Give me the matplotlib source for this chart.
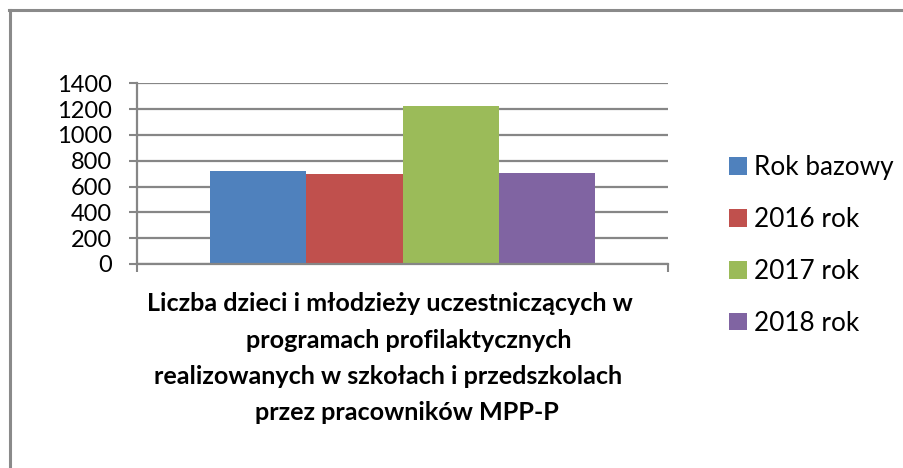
import matplotlib
matplotlib.use("Agg")
import matplotlib.pyplot as plt
from matplotlib.lines import Line2D
from matplotlib.patches import Patch

series = ["Rok bazowy", "2016 rok", "2017 rok", "2018 rok"]
values = [721, 698, 1225, 705]
colors = ["#4F81BD", "#C0504D", "#9BBB59", "#8064A2"]
yticks = [0, 200, 400, 600, 800, 1000, 1200, 1400]
title_lines = [
    "Liczba dzieci i młodzieży uczestniczących w",
    "programach profilaktycznych",
    "realizowanych w szkołach i przedszkolach",
    "przez pracowników MPP-P",
]

plt.rcParams["font.family"] = ["Lato", "DejaVu Sans"]
W, H = 904, 468
fig = plt.figure(figsize=(W / 100, H / 100), dpi=100)

def fx(px):
    return px / W

def fy(py):
    return 1 - py / H

ax = fig.add_axes([fx(137), fy(264), fx(668) - fx(137), fy(83.3) - fy(264)])
gray = "#868686"
bw = 0.1817
n = len(values)
for i, (v, c) in enumerate(zip(values, colors)):
    ax.bar((i - (n - 1) / 2) * bw, v, width=bw, color=c, zorder=3, label=series[i])

ax.set_xlim(-0.5, 0.5)
ax.set_ylim(0, 1400)
ax.set_yticks(yticks)
ax.set_yticklabels([str(t) for t in yticks], fontsize=17)
ax.set_xticks([-0.5, 0.5])
ax.set_xticklabels(["", ""])
ax.tick_params(axis="both", direction="out", length=6, width=1.5, color=gray, pad=12)
ax.yaxis.grid(True, color=gray, linewidth=1.6, zorder=0)
for s in ["top", "right"]:
    ax.spines[s].set_visible(False)
for s in ["left", "bottom"]:
    ax.spines[s].set_color(gray)
    ax.spines[s].set_linewidth(1.6)
ax.spines["bottom"].set_zorder(4)

centers = [390, 409, 388, 407]
baselines = [311, 348, 384, 420]
for line, cx, cy in zip(title_lines, centers, baselines):
    fig.text(fx(cx), fy(cy), line, ha="center", va="baseline", fontsize=18.1, fontweight="bold")

handles = [Patch(facecolor=c, edgecolor="none") for c in colors]
leg = fig.legend(handles, series, loc="upper left", bbox_to_anchor=(fx(716), fy(142)),
                 frameon=False, fontsize=18.8, handlelength=0.67, handleheight=0.67,
                 handletextpad=0.3, labelspacing=1.03, borderpad=0)

fig.add_artist(Line2D([fx(10), fx(10)], [fy(10), 0], color="#8a8a8a", linewidth=2.2))
fig.add_artist(Line2D([fx(9), 1], [fy(10), fy(10)], color="#8a8a8a", linewidth=2.2))

fig.savefig("out.png", dpi=100)
